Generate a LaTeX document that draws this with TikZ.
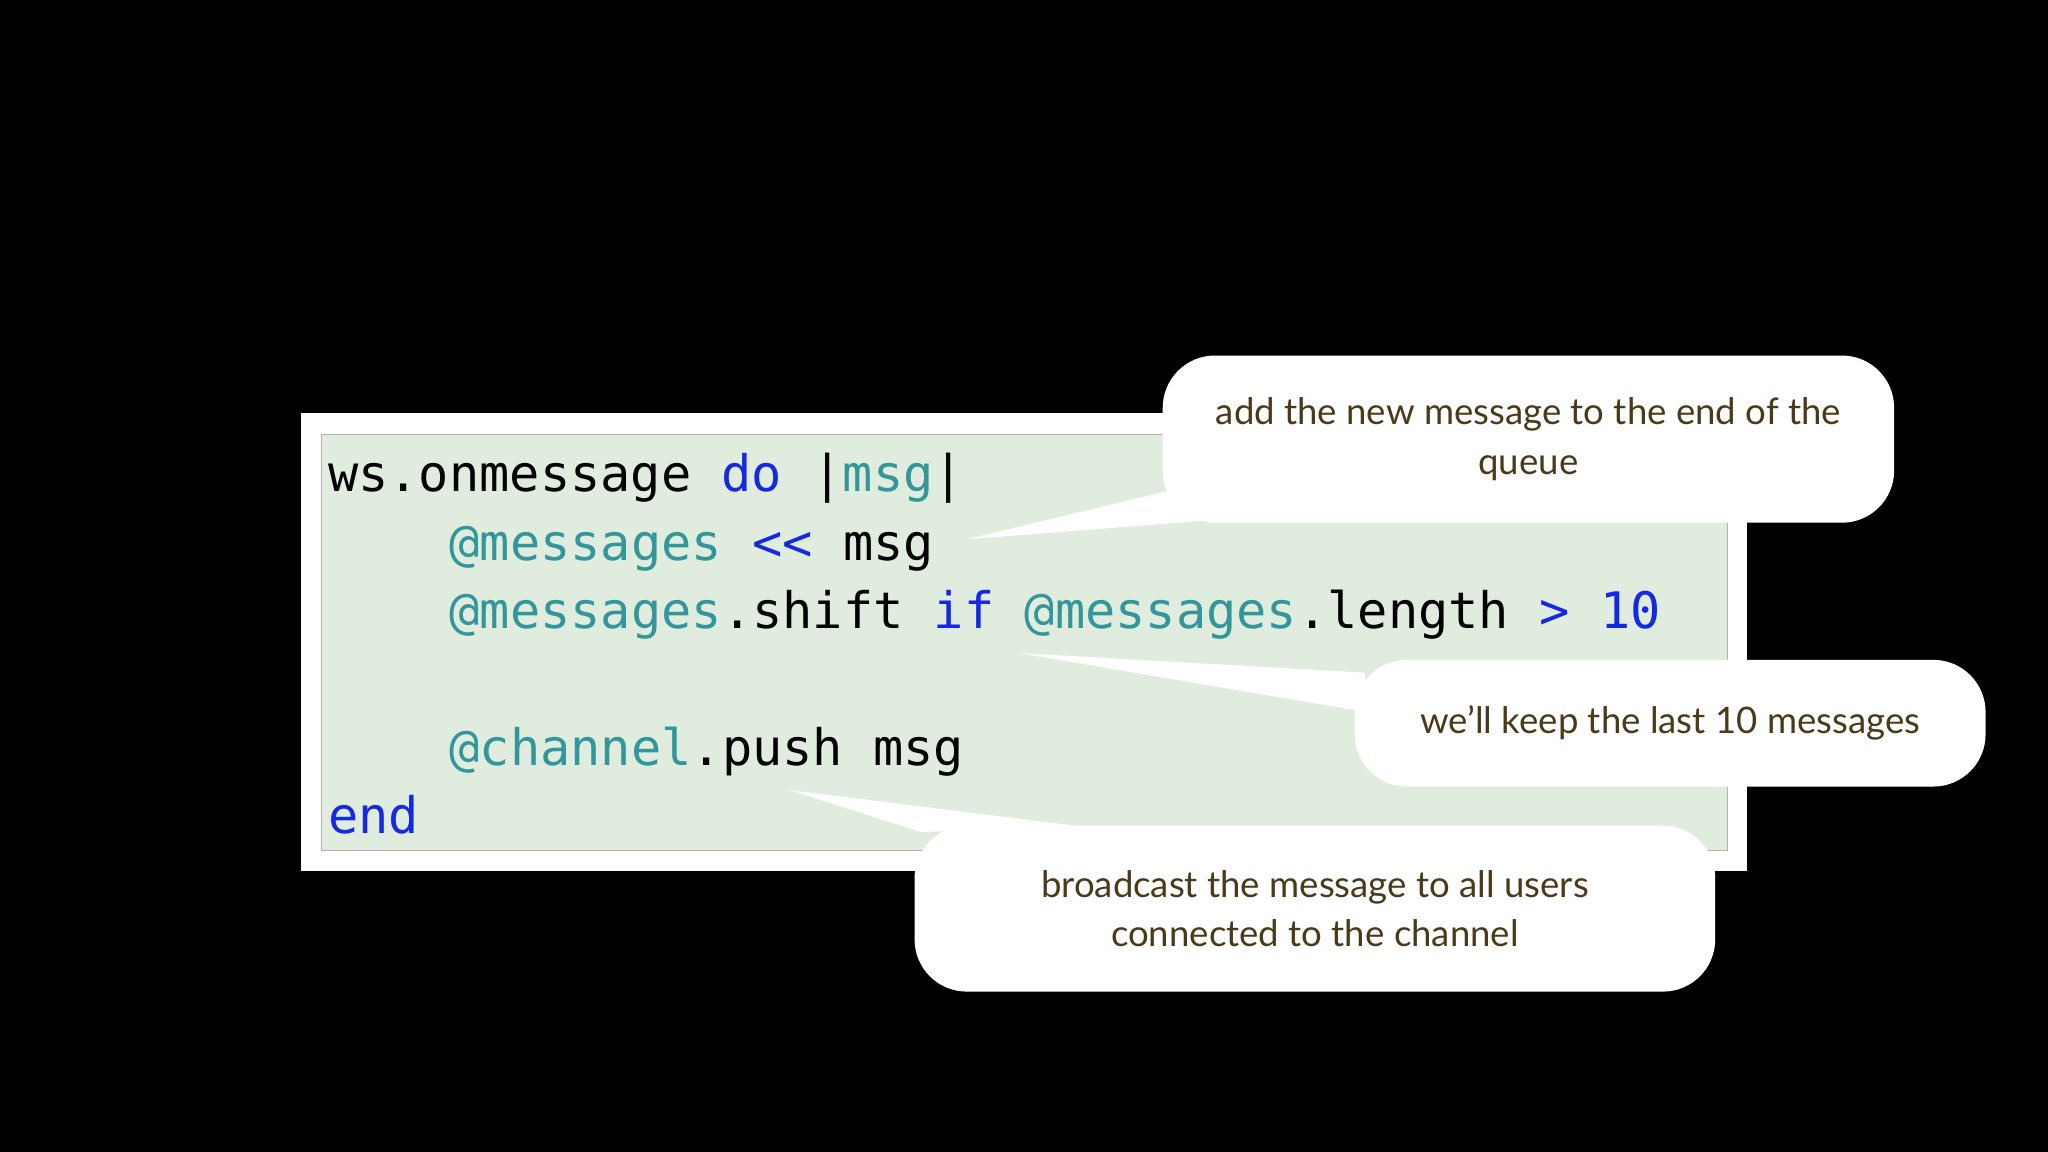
\documentclass[tikz,border=0pt]{standalone}
\usepackage{fontspec}
\setmainfont{Lato}
\setmonofont{DejaVu Sans Mono}
\definecolor{kw}{RGB}{20,40,230}
\definecolor{iv}{RGB}{50,150,155}
\definecolor{panel}{RGB}{224,237,222}
\definecolor{ctext}{RGB}{75,58,25}
\begin{document}
\begin{tikzpicture}[x=1pt,y=-1pt,
  code/.style={anchor=base west,inner sep=0pt,font=\ttfamily\fontsize{38.5}{46}\selectfont},
  callout/.style={fill=white,rounded corners=40pt,align=center,text=ctext,font=\fontsize{28}{38}\selectfont,inner sep=0pt},
  tail/.style={fill=white}]
\fill[black] (0,0) rectangle (1568,882);
\useasboundingbox (0,0) rectangle (1568,882);
\node[fill=white,minimum width=1107pt,minimum height=351pt,inner sep=0pt,anchor=north west] (frame) at (230,316) {};
\node[fill=panel,draw=gray!60,minimum width=1076pt,minimum height=319pt,inner sep=0pt,anchor=north west] (panel) at (246,332) {};
\node[code] (l1) at (251,376) {ws.onmessage \textcolor{kw}{do} |\textcolor{iv}{msg}|};
\node[code] (l2) at (344,429) {\textcolor{iv}{@messages} \textcolor{kw}{<<} msg};
\node[code] (l3) at (344,481) {\textcolor{iv}{@messages}.shift \textcolor{kw}{if} \textcolor{iv}{@messages}.length \textcolor{kw}{> 10}};
\node[code] (l5) at (344,586) {\textcolor{iv}{@channel}.push msg};
\node[code] (l6) at (251,638) {\textcolor{kw}{end}};
% tails
\coordinate (t1) at (740,413);
\coordinate (t2) at (780,500);
\coordinate (t3) at (605,605);
\fill[tail] (t1) -- (893,376) -- (930,398) -- cycle;
\fill[tail] (t2) -- (1045,515) -- (1045,545) -- cycle;
\fill[tail] (t3) -- (705,637) -- (830,633) -- cycle;
\node[callout,minimum width=560pt,minimum height=128pt,anchor=north west] (c1) at (890,272) {add the new message to the end of the\\queue};
\node[callout,minimum width=483pt,minimum height=97pt,anchor=north west] (c2) at (1037,505) {we’ll keep the last 10 messages};
\node[callout,minimum width=613pt,minimum height=127pt,anchor=north west] (c3) at (700,632) {broadcast the message to all users\\connected to the channel};
\end{tikzpicture}
\end{document}
